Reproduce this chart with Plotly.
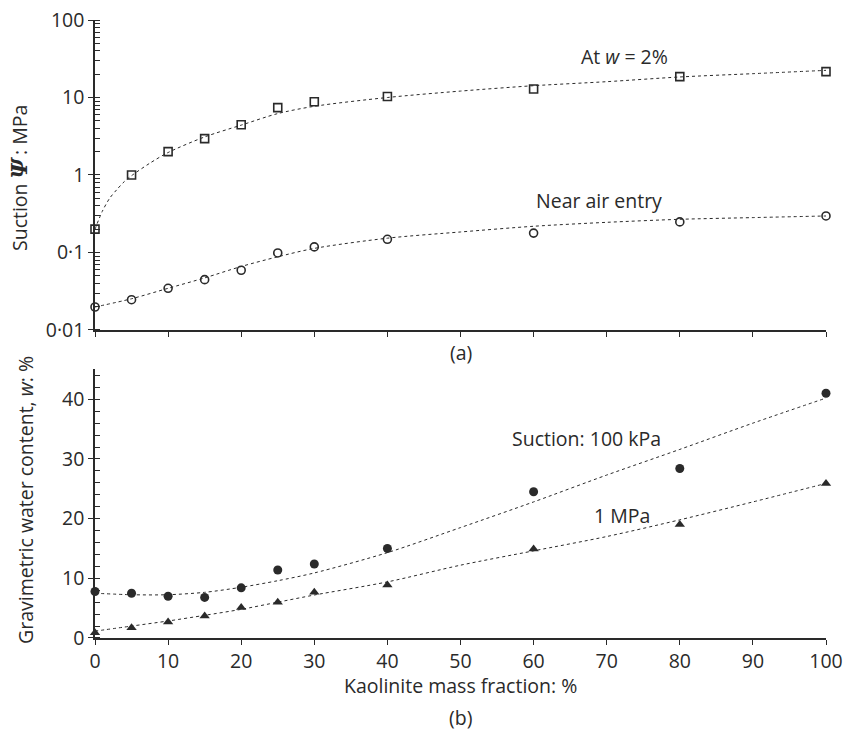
import plotly.graph_objects as go

# Kaolinite mass fraction of each mixture (%)
kaolinite = [0, 5, 10, 15, 20, 25, 30, 40, 60, 80, 100]

# (a) suction, MPa
suction_w2 = [0.2, 1.0, 2.0, 2.95, 4.45, 7.4, 8.8, 10.3, 12.9, 18.6, 21.6]
suction_air_entry = [0.0198, 0.0246, 0.0345, 0.0446, 0.059, 0.0986, 0.118, 0.148, 0.178, 0.248, 0.296]

# (b) gravimetric water content, %
w_100kpa = [7.8, 7.5, 7.0, 6.8, 8.4, 11.4, 12.4, 15.0, 24.5, 28.4, 41.0]
w_1mpa = [0.9, 1.7, 2.7, 3.7, 5.1, 6.0, 7.65, 8.9, 14.9, 19.0, 25.9]

# trend curves
fit_x_a = [0, 1, 2, 3, 4, 5, 7.5, 10, 15, 20, 25, 30, 40, 50, 60, 70, 80, 90, 100]
fit_w2 = [0.2, 0.34, 0.5, 0.65, 0.82, 0.98, 1.42, 1.95, 3.1, 4.4, 6.2, 7.7, 10.0, 12.1, 14.2, 16.0, 18.4, 20.3, 22.4]
fit_x_b = [0, 5, 10, 15, 20, 25, 30, 40, 50, 60, 70, 80, 90, 100]
fit_air_entry = [0.0198, 0.0253, 0.0345, 0.047, 0.066, 0.088, 0.113, 0.153, 0.184, 0.218, 0.245, 0.268, 0.282, 0.296]
fit_100kpa = [7.5, 7.25, 7.25, 7.65, 8.5, 9.6, 10.9, 14.3, 18.5, 22.8, 27.3, 31.6, 36.0, 40.2]
fit_1mpa = [1.15, 2.0, 2.85, 3.8, 4.8, 6.0, 7.2, 9.4, 12.2, 14.6, 17.0, 19.8, 22.8, 25.9]

INK = "#2a2a2a"
FONT = "Open Sans"
FS = 19.5

fig = go.Figure()

dotted = dict(color=INK, width=1, dash="dot", shape="spline", smoothing=0.8)

fig.add_trace(go.Scatter(x=fit_x_a, y=fit_w2, mode="lines", line=dotted,
                         xaxis="x", yaxis="y", hoverinfo="skip"))
fig.add_trace(go.Scatter(x=fit_x_b, y=fit_air_entry, mode="lines", line=dotted,
                         xaxis="x", yaxis="y", hoverinfo="skip"))
fig.add_trace(go.Scatter(x=kaolinite, y=suction_w2, mode="markers",
                         marker=dict(symbol="square-open", size=8, color=INK,
                                     line=dict(width=1.6, color=INK)),
                         xaxis="x", yaxis="y", cliponaxis=False))
fig.add_trace(go.Scatter(x=kaolinite, y=suction_air_entry, mode="markers",
                         marker=dict(symbol="circle-open", size=8, color=INK,
                                     line=dict(width=1.6, color=INK)),
                         xaxis="x", yaxis="y", cliponaxis=False))

fig.add_trace(go.Scatter(x=fit_x_b, y=fit_100kpa, mode="lines", line=dotted,
                         xaxis="x2", yaxis="y2", hoverinfo="skip"))
fig.add_trace(go.Scatter(x=fit_x_b, y=fit_1mpa, mode="lines", line=dotted,
                         xaxis="x2", yaxis="y2", hoverinfo="skip"))
fig.add_trace(go.Scatter(x=kaolinite, y=w_100kpa, mode="markers",
                         marker=dict(symbol="circle", size=9, color=INK),
                         xaxis="x2", yaxis="y2", cliponaxis=False))
fig.add_trace(go.Scatter(x=kaolinite, y=w_1mpa, mode="markers",
                         marker=dict(symbol="triangle-up", size=9, color=INK),
                         xaxis="x2", yaxis="y2", cliponaxis=False))

TOP_DOMAIN = [0.4984, 1.0]
BOT_DOMAIN = [0.0, 0.4346]
XRANGE = [0, 100]
LOG_RANGE = [-2, 2]
W_RANGE = [0, 45]

common = dict(showline=True, linecolor=INK, linewidth=1.5, showgrid=False,
              zeroline=False, tickcolor=INK, tickwidth=1.2, automargin=False,
              tickfont=dict(family=FONT, size=FS, color=INK))

log_vals = [0.01, 0.1, 1, 10, 100]
log_text = ["0·01", "0·1", "1", "10", "100"]

fig.update_layout(
    template="none",
    width=847, height=731,
    margin=dict(l=95, r=21, t=20, b=93, pad=0),
    paper_bgcolor="white", plot_bgcolor="white",
    showlegend=False,
    font=dict(family=FONT, size=FS, color=INK),
    xaxis=dict(common, domain=[0, 1], anchor="y", range=XRANGE, dtick=10,
               ticks="outside", ticklen=5, showticklabels=False),
    xaxis3=dict(common, overlaying="x", anchor="y", range=XRANGE, dtick=10,
                ticks="inside", ticklen=5, showticklabels=False),
    yaxis=dict(common, domain=TOP_DOMAIN, anchor="x", type="log", range=LOG_RANGE,
               tickvals=log_vals, ticktext=log_text, ticks="outside", ticklen=5,
               minor=dict(dtick="D1", ticks="inside", ticklen=5, tickcolor=INK,
                          tickwidth=1, showgrid=False)),
    yaxis3=dict(common, overlaying="y", anchor="x", type="log", range=LOG_RANGE,
                tickvals=log_vals, ticks="inside", ticklen=5, showticklabels=False),
    xaxis2=dict(common, domain=[0, 1], anchor="y2", range=XRANGE, dtick=10,
                ticks="outside", ticklen=5),
    xaxis4=dict(common, overlaying="x2", anchor="y2", range=XRANGE, dtick=10,
                ticks="inside", ticklen=5, showticklabels=False),
    yaxis2=dict(common, domain=BOT_DOMAIN, anchor="x2", range=W_RANGE,
                tickvals=[0, 10, 20, 30, 40], ticks="outside", ticklen=5,
                minor=dict(dtick=2, ticks="inside", ticklen=5, tickcolor=INK,
                           tickwidth=1, showgrid=False)),
    yaxis4=dict(common, overlaying="y2", anchor="x2", range=W_RANGE,
                tickvals=[0, 10, 20, 30, 40], ticks="inside", ticklen=5,
                showticklabels=False),
)

txt = dict(showarrow=False, font=dict(family=FONT, size=FS, color=INK))

fig.add_annotation(x=72.4, y=1.535, xref="x", yref="y", text="At <i>w</i> = 2%", **txt)
fig.add_annotation(x=68.9, y=-0.335, xref="x", yref="y", text="Near air entry", **txt)
fig.add_annotation(x=67.3, y=33.5, xref="x2", yref="y2", text="Suction: 100 kPa", **txt)
fig.add_annotation(x=72.1, y=20.6, xref="x2", yref="y2", text="1 MPa", **txt)

fig.add_annotation(x=0.5, y=(638 - 352) / 618, xref="paper", yref="paper",
                   text="(a)", xanchor="center", yanchor="middle", **txt)
fig.add_annotation(x=0.5, y=(638 - 685) / 618, xref="paper", yref="paper",
                   text="Kaolinite mass fraction: %", xanchor="center",
                   yanchor="middle", **txt)
fig.add_annotation(x=0.5, y=(638 - 717) / 618, xref="paper", yref="paper",
                   text="(b)", xanchor="center", yanchor="middle", **txt)

psi = "<span style='font-family:DejaVu Serif;font-size:22px'><b><i>Ψ</i></b></span>"
fig.add_annotation(x=0, xshift=-75, y=(638 - 178) / 618, xref="paper", yref="paper",
                   text="Suction " + psi + "\u2009: MPa",
                   textangle=-90, xanchor="center", yanchor="middle", **txt)
fig.add_annotation(x=0, xshift=-70, y=(638 - 500) / 618, xref="paper", yref="paper",
                   text="Gravimetric water content, <i>w</i>: %",
                   textangle=-90, xanchor="center", yanchor="middle", **txt)

fig.write_html("out.html")
